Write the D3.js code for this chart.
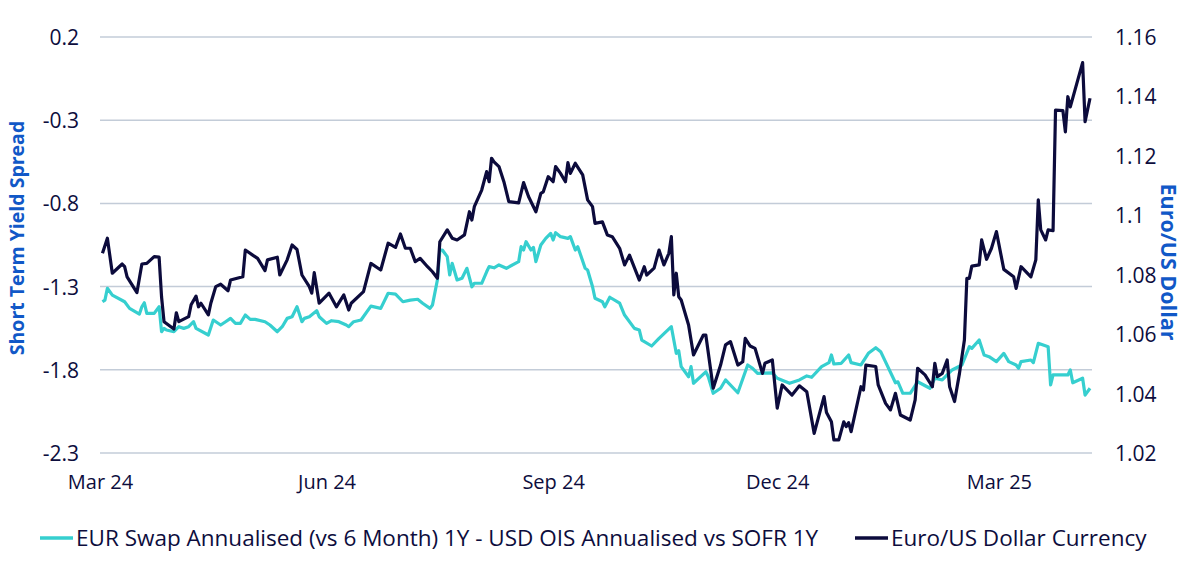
<!DOCTYPE html>
<html>
<head>
<meta charset="utf-8">
<script src="https://cdn.jsdelivr.net/npm/d3@7"></script>
<style>
  body { margin: 0; background: #fff; }
  text { font-family: "Open Sans", sans-serif; }
</style>
</head>
<body>
<svg id="chart" width="1200" height="573"></svg>
<script>
// spread series (left axis)
const spreadDates = ["2024-03-19","2024-03-20","2024-03-21","2024-03-23","2024-03-28","2024-03-30","2024-04-03","2024-04-04","2024-04-05","2024-04-06","2024-04-09","2024-04-11","2024-04-12","2024-04-13","2024-04-14","2024-04-17","2024-04-19","2024-04-21","2024-04-23","2024-04-25","2024-04-26","2024-05-01","2024-05-03","2024-05-06","2024-05-08","2024-05-10","2024-05-12","2024-05-14","2024-05-16","2024-05-18","2024-05-20","2024-05-24","2024-05-26","2024-05-29","2024-05-31","2024-06-02","2024-06-04","2024-06-06","2024-06-08","2024-06-09","2024-06-11","2024-06-14","2024-06-15","2024-06-18","2024-06-20","2024-06-23","2024-06-26","2024-06-27","2024-06-29","2024-07-02","2024-07-06","2024-07-10","2024-07-13","2024-07-16","2024-07-19","2024-07-22","2024-07-25","2024-07-27","2024-07-30","2024-07-31","2024-08-02","2024-08-03","2024-08-04","2024-08-06","2024-08-07","2024-08-08","2024-08-10","2024-08-12","2024-08-14","2024-08-16","2024-08-17","2024-08-20","2024-08-22","2024-08-23","2024-08-25","2024-08-27","2024-08-30","2024-09-04","2024-09-05","2024-09-06","2024-09-07","2024-09-09","2024-09-10","2024-09-11","2024-09-13","2024-09-15","2024-09-17","2024-09-18","2024-09-19","2024-09-21","2024-09-24","2024-09-25","2024-09-27","2024-09-28","2024-10-01","2024-10-02","2024-10-04","2024-10-05","2024-10-08","2024-10-09","2024-10-11","2024-10-15","2024-10-17","2024-10-21","2024-10-23","2024-10-24","2024-10-28","2024-10-31","2024-11-05","2024-11-07","2024-11-08","2024-11-09","2024-11-12","2024-11-13","2024-11-14","2024-11-19","2024-11-20","2024-11-22","2024-11-25","2024-11-27","2024-12-02","2024-12-06","2024-12-08","2024-12-10","2024-12-16","2024-12-18","2024-12-23","2024-12-27","2024-12-30","2025-01-01","2025-01-05","2025-01-08","2025-01-09","2025-01-10","2025-01-13","2025-01-16","2025-01-17","2025-01-21","2025-01-24","2025-01-27","2025-01-29","2025-02-04","2025-02-05","2025-02-07","2025-02-10","2025-02-13","2025-02-18","2025-02-20","2025-02-23","2025-02-27","2025-03-03","2025-03-06","2025-03-07","2025-03-10","2025-03-12","2025-03-14","2025-03-17","2025-03-20","2025-03-22","2025-03-25","2025-03-26","2025-03-27","2025-03-31","2025-04-01","2025-04-03","2025-04-07","2025-04-08","2025-04-09","2025-04-15","2025-04-16","2025-04-17","2025-04-21","2025-04-22","2025-04-24"];
const spreadValues = [-1.391,-1.381,-1.310,-1.351,-1.391,-1.431,-1.465,-1.421,-1.397,-1.461,-1.461,-1.421,-1.571,-1.551,-1.561,-1.571,-1.541,-1.551,-1.541,-1.511,-1.551,-1.591,-1.501,-1.531,-1.511,-1.491,-1.521,-1.521,-1.471,-1.497,-1.497,-1.511,-1.531,-1.571,-1.541,-1.491,-1.481,-1.421,-1.511,-1.491,-1.481,-1.445,-1.481,-1.521,-1.505,-1.511,-1.531,-1.541,-1.511,-1.501,-1.417,-1.431,-1.340,-1.345,-1.391,-1.381,-1.376,-1.400,-1.431,-1.411,-1.260,-1.080,-1.080,-1.120,-1.230,-1.160,-1.260,-1.250,-1.190,-1.301,-1.280,-1.280,-1.211,-1.180,-1.187,-1.170,-1.190,-1.150,-1.060,-1.080,-1.030,-1.080,-1.064,-1.150,-1.050,-1.010,-0.980,-1.020,-0.976,-1.000,-1.010,-1.000,-1.080,-1.060,-1.190,-1.200,-1.301,-1.370,-1.391,-1.421,-1.364,-1.400,-1.471,-1.551,-1.561,-1.621,-1.657,-1.611,-1.541,-1.701,-1.685,-1.781,-1.842,-1.781,-1.881,-1.812,-1.842,-1.941,-1.911,-1.861,-1.938,-1.771,-1.791,-1.821,-1.818,-1.851,-1.881,-1.861,-1.837,-1.845,-1.781,-1.757,-1.711,-1.765,-1.761,-1.711,-1.757,-1.771,-1.701,-1.667,-1.691,-1.878,-1.872,-1.941,-1.941,-1.872,-1.911,-1.851,-1.861,-1.801,-1.771,-1.661,-1.671,-1.621,-1.711,-1.721,-1.751,-1.701,-1.751,-1.771,-1.791,-1.751,-1.741,-1.757,-1.641,-1.661,-1.891,-1.831,-1.831,-1.801,-1.878,-1.851,-1.952,-1.911];

// euro / dollar series (right axis)
const eurUsdDates = ["2024-03-19","2024-03-21","2024-03-23","2024-03-27","2024-03-28","2024-03-29","2024-04-02","2024-04-04","2024-04-06","2024-04-09","2024-04-11","2024-04-12","2024-04-13","2024-04-17","2024-04-18","2024-04-19","2024-04-23","2024-04-24","2024-04-26","2024-04-27","2024-04-28","2024-05-01","2024-05-02","2024-05-04","2024-05-06","2024-05-09","2024-05-10","2024-05-15","2024-05-16","2024-05-19","2024-05-21","2024-05-24","2024-05-25","2024-05-29","2024-05-30","2024-06-02","2024-06-04","2024-06-06","2024-06-08","2024-06-11","2024-06-12","2024-06-13","2024-06-15","2024-06-19","2024-06-22","2024-06-25","2024-06-27","2024-06-28","2024-07-03","2024-07-06","2024-07-10","2024-07-13","2024-07-16","2024-07-18","2024-07-20","2024-07-22","2024-07-24","2024-07-26","2024-07-29","2024-07-31","2024-08-02","2024-08-03","2024-08-06","2024-08-08","2024-08-10","2024-08-13","2024-08-15","2024-08-16","2024-08-17","2024-08-20","2024-08-22","2024-08-23","2024-08-24","2024-08-25","2024-08-27","2024-08-29","2024-08-31","2024-09-04","2024-09-06","2024-09-08","2024-09-11","2024-09-13","2024-09-14","2024-09-16","2024-09-18","2024-09-19","2024-09-21","2024-09-23","2024-09-24","2024-09-25","2024-09-27","2024-09-30","2024-10-02","2024-10-04","2024-10-05","2024-10-08","2024-10-10","2024-10-12","2024-10-15","2024-10-17","2024-10-19","2024-10-23","2024-10-25","2024-10-26","2024-10-29","2024-10-31","2024-11-02","2024-11-04","2024-11-05","2024-11-06","2024-11-07","2024-11-08","2024-11-09","2024-11-12","2024-11-14","2024-11-18","2024-11-19","2024-11-22","2024-11-25","2024-11-27","2024-11-29","2024-12-02","2024-12-04","2024-12-05","2024-12-07","2024-12-09","2024-12-12","2024-12-13","2024-12-16","2024-12-18","2024-12-20","2024-12-24","2024-12-27","2024-12-30","2025-01-02","2025-01-06","2025-01-07","2025-01-09","2025-01-10","2025-01-12","2025-01-14","2025-01-15","2025-01-16","2025-01-17","2025-01-21","2025-01-22","2025-01-23","2025-01-27","2025-01-28","2025-01-31","2025-02-02","2025-02-04","2025-02-06","2025-02-10","2025-02-12","2025-02-13","2025-02-16","2025-02-19","2025-02-20","2025-02-21","2025-02-23","2025-02-25","2025-02-26","2025-02-28","2025-03-02","2025-03-04","2025-03-05","2025-03-06","2025-03-07","2025-03-10","2025-03-11","2025-03-13","2025-03-15","2025-03-17","2025-03-20","2025-03-24","2025-03-25","2025-03-27","2025-03-31","2025-04-02","2025-04-03","2025-04-04","2025-04-06","2025-04-07","2025-04-09","2025-04-10","2025-04-13","2025-04-14","2025-04-15","2025-04-16","2025-04-21","2025-04-22","2025-04-24"];
const eurUsdValues = [1.0872,1.0923,1.0805,1.0836,1.0827,1.0793,1.0740,1.0836,1.0838,1.0861,1.0859,1.0725,1.0642,1.0617,1.0672,1.0642,1.0659,1.0699,1.0728,1.0692,1.0704,1.0665,1.0704,1.0760,1.0768,1.0746,1.0782,1.0793,1.0883,1.0866,1.0855,1.0814,1.0850,1.0859,1.0799,1.0850,1.0900,1.0885,1.0799,1.0760,1.0738,1.0807,1.0704,1.0738,1.0692,1.0732,1.0681,1.0704,1.0743,1.0838,1.0816,1.0906,1.0892,1.0937,1.0889,1.0889,1.0844,1.0855,1.0827,1.0810,1.0788,1.0911,1.0951,1.0923,1.0917,1.0934,1.1012,1.0984,1.1029,1.1085,1.1147,1.1113,1.1192,1.1180,1.1164,1.1113,1.1046,1.1042,1.1110,1.1063,1.1012,1.1074,1.1079,1.1130,1.1113,1.1164,1.1141,1.1113,1.1177,1.1141,1.1175,1.1136,1.1052,1.1029,1.0973,1.0978,1.0934,1.0928,1.0889,1.0833,1.0866,1.0782,1.0827,1.0799,1.0822,1.0883,1.0833,1.0872,1.0928,1.0732,1.0805,1.0726,1.0715,1.0631,1.0530,1.0597,1.0597,1.0418,1.0496,1.0564,1.0575,1.0496,1.0507,1.0586,1.0560,1.0552,1.0468,1.0502,1.0513,1.0351,1.0429,1.0395,1.0426,1.0406,1.0266,1.0390,1.0336,1.0305,1.0244,1.0244,1.0305,1.0289,1.0302,1.0272,1.0423,1.0412,1.0496,1.0491,1.0429,1.0367,1.0345,1.0401,1.0328,1.0311,1.0379,1.0485,1.0463,1.0423,1.0502,1.0457,1.0468,1.0513,1.0423,1.0373,1.0468,1.0580,1.0788,1.0788,1.0829,1.0833,1.0917,1.0852,1.0889,1.0945,1.0818,1.0793,1.0754,1.0827,1.0793,1.0850,1.1052,1.0951,1.0917,1.0951,1.0948,1.1354,1.1352,1.1281,1.1399,1.1365,1.1514,1.1315,1.1394];

const spreadTicks = [0.2, -0.3, -0.8, -1.3, -1.8, -2.3];
const fxTicks = [1.16, 1.14, 1.12, 1.1, 1.08, 1.06, 1.04, 1.02];
const xTickDates = ["2024-03-18","2024-06-18","2024-09-18","2024-12-18","2025-03-18"];
const xTickLabels = ["Mar 24","Jun 24","Sep 24","Dec 24","Mar 25"];
const seriesNames = ["EUR Swap Annualised (vs 6 Month) 1Y - USD OIS Annualised vs SOFR 1Y", "Euro/US Dollar Currency"];

const cyan = "#36cfcf";
const navy = "#0c0b3c";
const textCol = "#0d0d3d";
const titleBlue = "#1158c7";
const gridCol = "#c3ccd8";

const parse = d3.timeParse("%Y-%m-%d");
const spread = spreadDates.map((d, i) => ({date: parse(d), value: spreadValues[i]}));
const fx = eurUsdDates.map((d, i) => ({date: parse(d), value: eurUsdValues[i]}));

const plotLeft = 100, plotRight = 1090, plotTop = 37, plotBottom = 453;
const svg = d3.select("#chart");

const x = d3.scaleTime()
  .domain([parse("2024-03-18"), parse("2025-04-24")])
  .range([plotLeft, plotRight]);
const yL = d3.scaleLinear().domain([-2.3, 0.2]).range([plotBottom, plotTop]);
const yR = d3.scaleLinear().domain([1.02, 1.16]).range([plotBottom, plotTop]);

// gridlines off the left axis
svg.append("g")
  .selectAll("line")
  .data(spreadTicks)
  .join("line")
  .attr("x1", plotLeft).attr("x2", plotRight + 2)
  .attr("y1", d => yL(d)).attr("y2", d => yL(d))
  .attr("stroke", gridCol)
  .attr("stroke-width", 1.5);

const leftAxis = svg.append("g")
  .attr("transform", `translate(${plotLeft - 21},0)`)
  .call(d3.axisLeft(yL).tickValues(spreadTicks).tickSize(0).tickPadding(0)
    .tickFormat(d => d.toFixed(1).replace("\u2212", "-")));

const rightAxis = svg.append("g")
  .attr("transform", `translate(${plotRight + 25},0)`)
  .call(d3.axisRight(yR).tickValues(fxTicks).tickSize(0).tickPadding(0)
    .tickFormat(d => String(+d.toFixed(2))));

const bottomAxis = svg.append("g")
  .attr("transform", `translate(0,${plotBottom + 17})`)
  .call(d3.axisBottom(x).tickValues(xTickDates.map(parse)).tickSize(0).tickPadding(0)
    .tickFormat((d, i) => xTickLabels[i]));

[leftAxis, rightAxis, bottomAxis].forEach(a => {
  a.select(".domain").remove();
  a.selectAll("text")
    .style("font-family", '"Open Sans", sans-serif')
    .style("font-size", "21px")
    .attr("fill", textCol);
});
bottomAxis.selectAll("text").style("font-size", "20px");
leftAxis.selectAll("text").attr("dy", "0.36em");
rightAxis.selectAll("text").attr("dy", "0.36em");
bottomAxis.selectAll("text").attr("dy", "0.95em");

// axis titles
svg.append("text")
  .attr("transform", "translate(24,238) rotate(-90)")
  .attr("text-anchor", "middle")
  .attr("font-size", 19.5)
  .attr("font-weight", "bold")
  .attr("fill", titleBlue)
  .text("Short Term Yield Spread");

svg.append("text")
  .attr("transform", "translate(1161,262) rotate(90)")
  .attr("text-anchor", "middle")
  .attr("font-size", 21.5)
  .attr("font-weight", "bold")
  .attr("fill", titleBlue)
  .text("Euro/US Dollar");

// lines
const lineL = d3.line().x(d => x(d.date)).y(d => yL(d.value));
const lineR = d3.line().x(d => x(d.date)).y(d => yR(d.value));

svg.append("path")
  .datum(spread)
  .attr("d", lineL)
  .attr("fill", "none")
  .attr("stroke", cyan)
  .attr("stroke-width", 3.2)
  .attr("stroke-linejoin", "round");

svg.append("path")
  .datum(fx)
  .attr("d", lineR)
  .attr("fill", "none")
  .attr("stroke", navy)
  .attr("stroke-width", 3.2)
  .attr("stroke-linejoin", "round");

// legend
const legendItems = [
  {name: seriesNames[0], color: cyan, x: 40},
  {name: seriesNames[1], color: navy, x: 855}
];
const legend = svg.append("g").attr("transform", "translate(0,538)");
legendItems.forEach(item => {
  legend.append("line")
    .attr("x1", item.x).attr("x2", item.x + 33)
    .attr("y1", 0).attr("y2", 0)
    .attr("stroke", item.color)
    .attr("stroke-width", 3.5);
  legend.append("text")
    .attr("x", item.x + 36)
    .attr("dy", "0.36em")
    .attr("font-size", 22.5)
    .attr("fill", textCol)
    .text(item.name);
});
</script>
</body>
</html>
